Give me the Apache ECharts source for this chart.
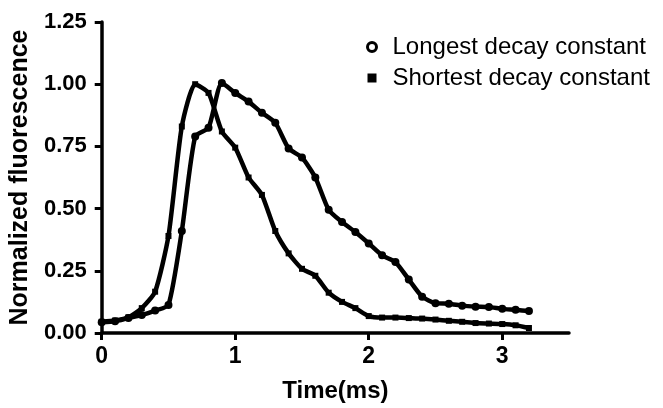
<!DOCTYPE html>
<html>
<head>
<meta charset="utf-8">
<script src="https://cdn.jsdelivr.net/npm/echarts@6/dist/echarts.min.js"></script>
<style>
html,body{margin:0;padding:0;background:#fff;}
#chart{width:663px;height:408px;}
</style>
</head>
<body>
<div id="chart"></div>
<script>
const time = [0.0,0.1,0.2,0.3,0.4,0.5,0.6,0.7,0.8,0.9,1.0,1.1,1.2,1.3,1.4,1.5,1.6,1.7,1.8,1.9,2.0,2.1,2.2,2.3,2.4,2.5,2.6,2.7,2.8,2.9,3.0,3.1,3.2];
const longest = [0.043,0.047,0.060,0.072,0.090,0.113,0.410,0.790,0.825,1.005,0.965,0.930,0.885,0.845,0.742,0.705,0.625,0.495,0.446,0.406,0.360,0.312,0.285,0.215,0.146,0.120,0.118,0.110,0.106,0.104,0.097,0.093,0.088];
const shortest = [0.045,0.050,0.063,0.100,0.166,0.390,0.830,1.000,0.965,0.810,0.745,0.625,0.555,0.410,0.320,0.258,0.230,0.162,0.125,0.100,0.068,0.062,0.062,0.060,0.058,0.054,0.049,0.045,0.040,0.038,0.036,0.031,0.020];
const xTicks = [0,1,2,3];
const seriesNames = ['Longest decay constant','Shortest decay constant'];
const xTitle = 'Time(ms)';
const yTitle = 'Normalized fluorescence';

const pair = (xs, ys) => xs.map((x, i) => [x, ys[i]]);
const FONT = '"Liberation Sans", Arial, sans-serif';

const chart = echarts.init(document.getElementById('chart'), null, {renderer: 'canvas'});
chart.setOption({
  animation: false,
  backgroundColor: '#fff',
  grid: {left: 100, right: 94, top: 22, bottom: 73, containLabel: false},
  legend: {
    orient: 'vertical',
    left: 361,
    top: 30,
    itemWidth: 9,
    itemHeight: 9,
    itemGap: 7,
    formatter: name => '{s|}' + name,
    textStyle: {
      fontFamily: FONT, fontSize: 24, color: '#000',
      rich: {s: {width: 11}}
    },
    data: [
      {name: seriesNames[0], icon: 'circle', itemStyle: {color: '#fff', borderColor: '#000', borderWidth: 3}},
      {name: seriesNames[1], icon: 'rect', itemStyle: {color: '#000', borderWidth: 0}}
    ]
  },
  xAxis: {
    type: 'value', min: 0, max: 3.5,
    name: xTitle, nameLocation: 'middle', nameGap: 46,
    nameTextStyle: {fontFamily: FONT, fontSize: 24, fontWeight: 'bold', color: '#000'},
    axisLine: {show: true, onZero: false, lineStyle: {color: '#000', width: 3.5}},
    axisTick: {show: true, length: 7, lineStyle: {color: '#000', width: 3}, customValues: xTicks},
    axisLabel: {fontFamily: FONT, fontSize: 23, fontWeight: 'bold', color: '#000', margin: 12, customValues: xTicks},
    splitLine: {show: false}
  },
  yAxis: {
    type: 'value', min: 0, max: 1.25, interval: 0.25,
    name: yTitle, nameLocation: 'middle', nameGap: 63, nameRotate: 90,
    nameTextStyle: {fontFamily: FONT, fontSize: 25, fontWeight: 'bold', color: '#000'},
    axisLine: {show: true, onZero: false, lineStyle: {color: '#000', width: 3.5}},
    axisTick: {show: true, length: 7, lineStyle: {color: '#000', width: 3}},
    axisLabel: {fontFamily: FONT, fontSize: 22, fontWeight: 'bold', color: '#000', margin: 15,
      formatter: v => v.toFixed(2)},
    splitLine: {show: false}
  },
  series: [
    {
      name: seriesNames[0], type: 'line', data: pair(time, longest),
      symbol: 'circle', symbolSize: 8, showSymbol: true, smooth: 0.2,
      lineStyle: {color: '#000', width: 4.5},
      itemStyle: {color: '#000'},
      z: 3
    },
    {
      name: seriesNames[1], type: 'line', data: pair(time, shortest),
      symbol: 'rect', symbolSize: 6, showSymbol: true, smooth: 0.2,
      lineStyle: {color: '#000', width: 4.5},
      itemStyle: {color: '#000'},
      z: 2
    }
  ]
});
</script>
</body>
</html>
